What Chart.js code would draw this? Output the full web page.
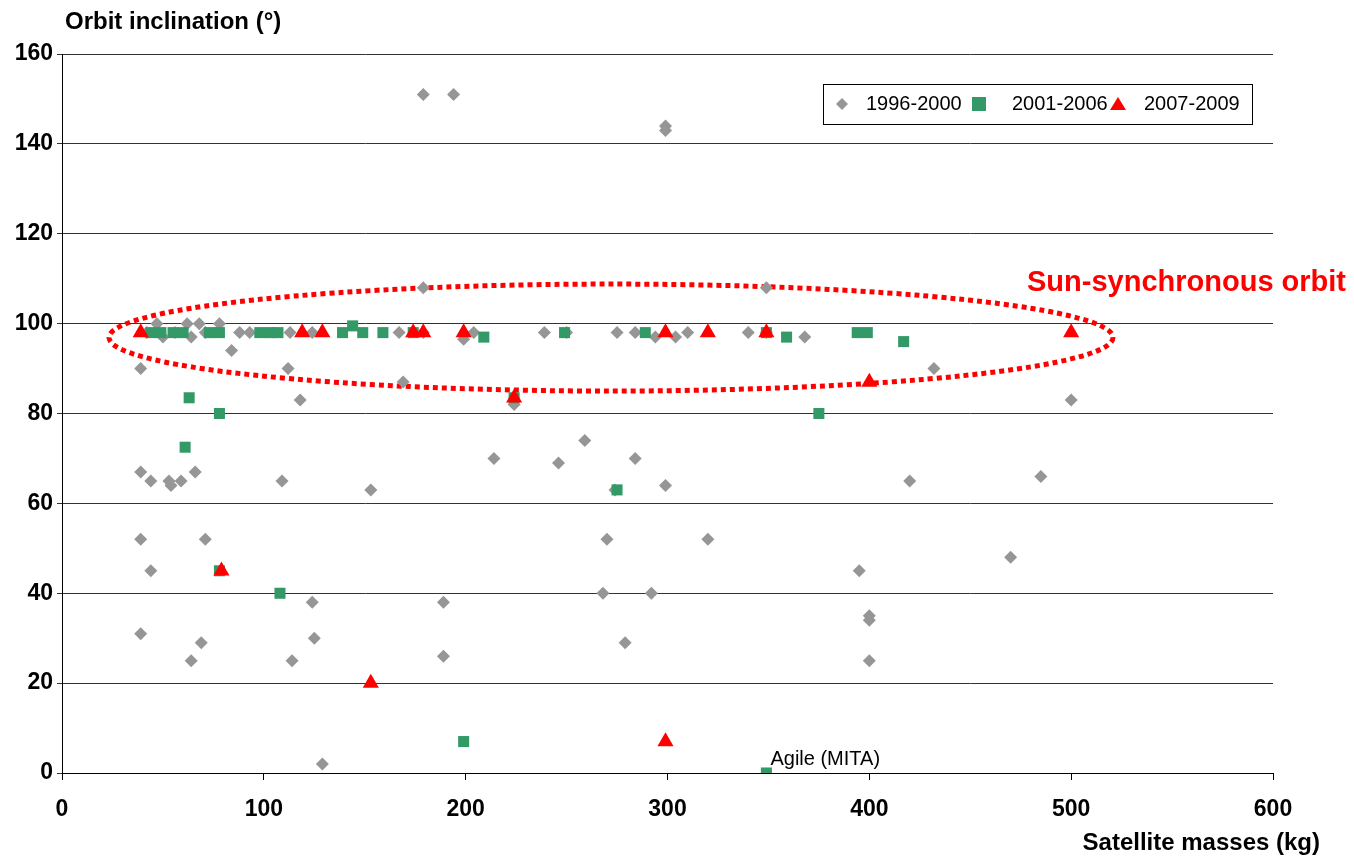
<!DOCTYPE html>
<html>
<head>
<meta charset="utf-8">
<script src="https://cdn.jsdelivr.net/npm/chart.js@4/dist/chart.umd.min.js"></script>
<style>
  html, body { margin: 0; padding: 0; background: #fff; }
  #wrap { width: 1354px; height: 859px; }
</style>
</head>
<body>
<div id="wrap"><canvas id="orbitChart"></canvas></div>
<script>
// 1996-2000 launches: mass (kg) / inclination (deg)
const massA = [179, 194, 299, 299, 179, 349,
  39, 112, 84, 169, 118, 224, 432, 500,
  42, 47, 50, 56, 62, 64, 68, 71, 78, 88, 93, 113, 124, 167, 179, 199, 204, 239, 250, 275, 284, 294, 304, 310, 340, 349, 368,
  39, 44, 53, 54, 59, 66, 109, 153, 214, 246, 259, 284, 274, 299,
  39, 71, 270, 320, 44, 189, 268, 292, 124, 39, 69, 125, 64, 114, 189, 279,
  420, 485, 395, 470, 400, 400, 400, 129];
const inclA = [151, 151, 144, 143, 108, 108,
  90, 90, 94, 87, 83, 82, 90, 83,
  98, 100, 97, 98, 100, 97, 100, 98, 100, 98, 98, 98, 98, 98, 98, 96.5, 98, 98, 98, 98, 98, 97, 97, 98, 98, 98, 97,
  67, 65, 65, 64, 65, 67, 65, 63, 70, 69, 74, 70, 63, 64,
  52, 52, 52, 52, 45, 38, 40, 40, 38, 31, 29, 30, 25, 25, 26, 29,
  65, 66, 45, 48, 35, 34, 25, 2];

// 2001-2006
const massB = [44, 49, 55, 60, 73, 78, 98, 103, 107, 139, 144, 149, 159, 174, 209, 249, 289, 349, 359, 394, 399, 417,
  63, 61, 78, 78, 108, 275, 375, 199, 349, 224];
const inclB = [98, 98, 98, 98, 98, 98, 98, 98, 98, 98, 99.5, 98, 98, 98, 97, 98, 98, 98, 97, 98, 98, 96,
  83.5, 72.5, 80, 45, 40, 63, 80, 7, 0, 83.5];

// 2007-2009
const massC = [39, 119, 129, 174, 179, 199, 299, 320, 349, 500, 224, 400, 79, 153, 299];
const inclC = [98, 98, 98, 98, 98, 98, 98, 98, 98, 98, 83.5, 87, 45, 20, 7];

const seriesNames = ["1996-2000", "2001-2006", "2007-2009"];
const xTicks = [0, 100, 200, 300, 400, 500, 600];
const yTicks = [0, 20, 40, 60, 80, 100, 120, 140, 160];

// ellipse around the sun-synchronous group (centre / radii in data units)
const ssoEllipse = { x: 272, y: 96.9, rx: 248.7, ry: 11.9 };

const FONT = "'Liberation Sans', Arial, sans-serif";
const GRAY = "#969696", GREEN = "#339966", RED = "#ff0000";

const toPoints = (xs, ys) => xs.map((x, i) => ({ x, y: ys[i] }));

const decor = {
  id: "decor",
  beforeDatasetsDraw(chart) {
    const { ctx, scales: { x, y } } = chart;
    const cx = x.getPixelForValue(ssoEllipse.x);
    const cy = y.getPixelForValue(ssoEllipse.y);
    const rx = x.getPixelForValue(ssoEllipse.x + ssoEllipse.rx) - cx;
    const ry = cy - y.getPixelForValue(ssoEllipse.y + ssoEllipse.ry);
    ctx.save();
    ctx.strokeStyle = RED;
    ctx.lineWidth = 5;
    ctx.setLineDash([5, 4]);
    ctx.beginPath();
    ctx.ellipse(cx, cy, rx, ry, 0, 0, Math.PI * 2);
    ctx.stroke();
    ctx.restore();
  },
  afterDraw(chart) {
    const { ctx, scales: { x, y } } = chart;
    ctx.save();
    ctx.fillStyle = "#000";
    ctx.textBaseline = "middle";

    // axis titles
    ctx.font = "bold 24px " + FONT;
    ctx.textAlign = "left";
    ctx.fillText("Orbit inclination (°)", 65, 22);
    ctx.textAlign = "right";
    ctx.fillText("Satellite masses (kg)", 1320, 843);

    // annotations
    ctx.textAlign = "left";
    ctx.font = "20px " + FONT;
    ctx.fillText("Agile (MITA)", x.getPixelForValue(351), y.getPixelForValue(3));
    ctx.fillStyle = RED;
    ctx.font = "bold 29px " + FONT;
    ctx.textAlign = "right";
    ctx.fillText("Sun-synchronous orbit", 1346, 283);

    // legend box
    ctx.fillStyle = "#fff";
    ctx.fillRect(823, 84, 429, 40);
    ctx.strokeStyle = "#000";
    ctx.lineWidth = 1;
    ctx.strokeRect(823.5, 84.5, 429, 40);
    const ly = 104;
    // diamond
    ctx.fillStyle = GRAY;
    ctx.beginPath();
    ctx.moveTo(842, ly - 6); ctx.lineTo(848, ly); ctx.lineTo(842, ly + 6); ctx.lineTo(836, ly);
    ctx.closePath(); ctx.fill();
    // square
    ctx.fillStyle = GREEN;
    ctx.fillRect(972, ly - 7, 14, 14);
    // triangle
    ctx.fillStyle = RED;
    ctx.beginPath();
    ctx.moveTo(1118, ly - 7); ctx.lineTo(1126, ly + 6); ctx.lineTo(1110, ly + 6);
    ctx.closePath(); ctx.fill();

    ctx.fillStyle = "#000";
    ctx.font = "20px " + FONT;
    ctx.textAlign = "left";
    ctx.fillText(seriesNames[0], 866, ly);
    ctx.fillText(seriesNames[1], 1012, ly);
    ctx.fillText(seriesNames[2], 1144, ly);
    ctx.restore();
  }
};

new Chart(document.getElementById("orbitChart"), {
  type: "scatter",
  data: {
    datasets: [
      {
        label: seriesNames[2],
        data: toPoints(massC, inclC),
        pointStyle: "triangle",
        pointRadius: 9.3,
        backgroundColor: RED,
        borderColor: RED,
        borderWidth: 0,
        order: 0,
      },
      {
        label: seriesNames[1],
        data: toPoints(massB, inclB),
        pointStyle: "rect",
        pointRadius: 7.8,
        backgroundColor: GREEN,
        borderColor: GREEN,
        borderWidth: 0,
        order: 1,
      },
      {
        label: seriesNames[0],
        data: toPoints(massA, inclA),
        pointStyle: "rectRot",
        pointRadius: 6.5,
        backgroundColor: GRAY,
        borderColor: GRAY,
        borderWidth: 0,
        order: 2,
      },
    ],
  },
  options: {
    responsive: true,
    maintainAspectRatio: false,
    animation: false,
    layout: { padding: { left: 0, right: 81, top: 54, bottom: 0 } },
    plugins: {
      legend: { display: false },
      tooltip: { enabled: false },
    },
    scales: {
      x: {
        type: "linear",
        min: 0,
        max: 600,
        afterBuildTicks: (scale) => { scale.ticks = xTicks.map((v) => ({ value: v })); },
        afterFit: (scale) => { scale.height = 86; },
        ticks: { color: "#000", font: { family: FONT, size: 23, weight: "bold" }, padding: 16 },
        grid: { drawOnChartArea: false, drawTicks: true, tickLength: 7, color: "#000" },
        border: { color: "#000", width: 1 },
      },
      y: {
        min: 0,
        max: 160,
        afterBuildTicks: (scale) => { scale.ticks = yTicks.map((v) => ({ value: v })); },
        afterFit: (scale) => { scale.width = 62; },
        ticks: { color: "#000", font: { family: FONT, size: 23, weight: "bold" }, padding: 4 },
        grid: { color: "#333", tickLength: 5 },
        border: { color: "#000", width: 1 },
      },
    },
  },
  plugins: [decor],
});
</script>
</body>
</html>
